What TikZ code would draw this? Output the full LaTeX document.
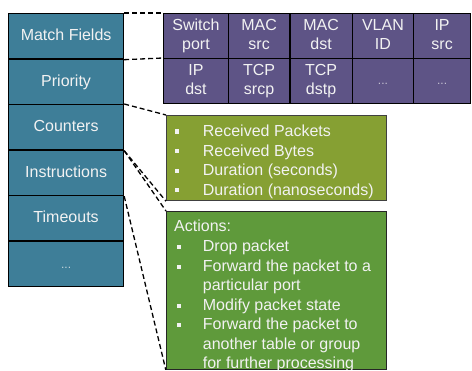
\documentclass[tikz,border=0pt]{standalone}
\usepackage{fontspec}
\setmainfont{Liberation Sans}
\definecolor{tealc}{HTML}{3E7E98}
\definecolor{purp}{HTML}{5E5486}
\definecolor{olive1}{HTML}{86A033}
\definecolor{green1}{HTML}{5F9A3B}
\definecolor{txt}{HTML}{F2F2F2}
\newcommand{\mydots}[1]{\strut{\fontsize{12}{14}\selectfont\color{#1}...}}
\begin{document}
\begin{tikzpicture}[x=1pt,y=-1pt,
  every node/.style={font=\fontsize{16}{19.5}\selectfont, text=txt},
  lcell/.style={draw=black, line width=1.2pt, fill=tealc, anchor=north west,
    minimum width=115pt, minimum height=45.5pt, inner sep=0pt,
    text height=11.5pt, text depth=2.5pt},
  pcell/.style={draw=black, line width=1.2pt, fill=purp, anchor=north west,
    minimum height=45pt, inner sep=0pt, align=center},
  gbox/.style={draw=black!75, line width=1.2pt, anchor=north west,
    minimum width=220pt, inner sep=0pt},
  ln/.style={anchor=base west, inner sep=0pt},
  bul/.style={fill=txt, minimum size=4.2pt, inner sep=0pt},
  dline/.style={draw=black, line width=1.3pt, dash pattern=on 5pt off 3pt}
]
\useasboundingbox (0,0) rectangle (472,371);
\clip (0,0) rectangle (472,369.3);

% left column
\node[lcell] (mf) at (8,13)    {Match Fields};
\node[lcell] (pr) at (8,58.5)  {Priority};
\node[lcell] (cn) at (8,104)   {Counters};
\node[lcell] (in) at (8,149.5) {Instructions};
\node[lcell] (to) at (8,195)   {Timeouts};
\node[lcell] (et) at (8,240.5) {\mydots{txt!75!tealc}};

% match fields table
\node[pcell, minimum width=64.7pt] (c11) at (163,13)   {\strut Switch\\port\strut};
\node[pcell, minimum width=61.6pt] (c12) at (227.7,13) {\strut MAC\\src\strut};
\node[pcell, minimum width=62.4pt] (c13) at (289.3,13) {\strut MAC\\dst\strut};
\node[pcell, minimum width=61.3pt] (c14) at (351.7,13) {\strut VLAN\\ID\strut};
\node[pcell, minimum width=57pt]   (c15) at (413,13)   {\strut IP\\src\strut};
\node[pcell, minimum width=64.7pt] (c21) at (163,58)   {\strut IP\\dst\strut};
\node[pcell, minimum width=61.6pt] (c22) at (227.7,58) {\strut TCP\\srcp\strut};
\node[pcell, minimum width=62.4pt] (c23) at (289.3,58) {\strut TCP\\dstp\strut};
\node[pcell, minimum width=61.3pt] (c24) at (351.7,58) {\mydots{txt!70!purp}};
\node[pcell, minimum width=57pt]   (c25) at (413,58)   {\mydots{txt!70!purp}};

% counters box
\node[gbox, fill=olive1, minimum height=85pt] (ctr) at (166,115) {};
\node[bul] (b1) at (177.3,131.5) {};
\node[bul] (b2) at (177.3,151.1) {};
\node[bul] (b3) at (177.3,170.8) {};
\node[bul] (b4) at (177.3,190.3) {};
\node[ln] (t1) at (202.7,136.7) {Received Packets};
\node[ln] (t2) at (202.7,156.3) {Received Bytes};
\node[ln] (t3) at (202.7,176)   {Duration (seconds)};
\node[ln] (t4) at (202.7,195.5) {Duration (nanoseconds)};

% actions box
\node[gbox, draw=black!85, fill=green1, minimum height=158.5pt] (act) at (166,211) {};
\node[ln] (a0) at (174,231.7)   {Actions:};
\node[bul] (ab1) at (178.7,247)   {};
\node[bul] (ab2) at (178.7,267)   {};
\node[bul] (ab3) at (178.7,306)   {};
\node[bul] (ab4) at (178.7,325.3) {};
\node[ln] (a1) at (202.7,251.7) {Drop packet};
\node[ln] (a2) at (202.7,271.7) {Forward the packet to a};
\node[ln] (a3) at (202.7,291)   {particular port};
\node[ln] (a4) at (202.7,310.7) {Modify packet state};
\node[ln] (a5) at (202.7,330)   {Forward the packet to};
\node[ln] (a6) at (202.7,349.3) {another table or group};
\node[ln] (a7) at (202.7,368.3) {for further processing};

% dashed connectors
\draw[dline] (mf.north east) -- (c11.north west);
\draw[dline] (mf.south east) -- (c21.north west);
\draw[dline] (cn.north east) -- (ctr.north west);
\draw[dline] (cn.south east) -- (ctr.south west);
\draw[dline] (cn.south east) -- (act.north west);
\draw[dline] (in.south east) -- (act.south west);
\end{tikzpicture}
\end{document}
